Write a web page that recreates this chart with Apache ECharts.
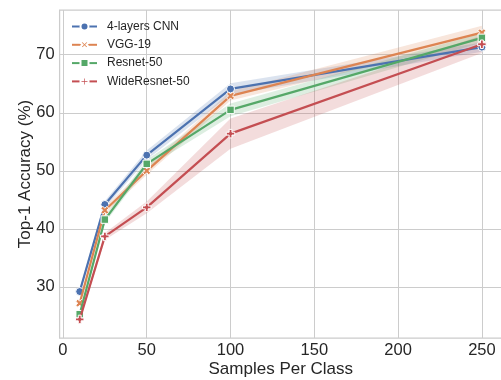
<!DOCTYPE html>
<html>
<head>
<meta charset="utf-8">
<script src="https://cdn.jsdelivr.net/npm/echarts@6/dist/echarts.min.js"></script>
<style>
    html, body { margin: 0; padding: 0; background: #fff; }
    #chart { width: 501px; height: 380px; }
</style>
</head>
<body>
<div id="chart"></div>
<script>
// data
const samples = [10, 25, 50, 100, 250];
const modelNames = ['4-layers CNN', 'VGG-19', 'Resnet-50', 'WideResnet-50'];

const cnnAcc  = [29.2, 44.2, 52.7, 64.1, 71.3];
const cnnLow  = [28.7, 43.6, 51.9, 63.1, 70.5];
const cnnHigh = [29.7, 44.8, 53.5, 65.1, 72.1];

const vggAcc  = [27.2, 43.2, 50.0, 62.9, 73.8];
const vggLow  = [26.7, 42.6, 49.3, 62.1, 72.6];
const vggHigh = [27.7, 43.8, 50.7, 63.7, 75.0];

const resAcc  = [25.3, 41.6, 51.2, 60.5, 72.9];
const resLow  = [24.8, 41.0, 50.5, 59.4, 72.1];
const resHigh = [25.8, 42.2, 51.9, 61.6, 73.7];

const wideAcc  = [24.4, 38.7, 43.7, 56.4, 71.8];
const wideLow  = [24.0, 38.1, 42.7, 53.8, 70.3];
const wideHigh = [24.8, 39.3, 44.7, 59.0, 73.3];

const xTicks = [0, 50, 100, 150, 200, 250];
const yTicks = [30, 40, 50, 60, 70];

const textColor = '#262626';
const gridColor = '#cccccc';
const fontName = 'Liberation Sans';

// filled plus / filled x like matplotlib 'P' and 'X'
const plusPath = 'path://M-1,-3H1V-1H3V1H1V3H-1V1H-3V-1H-1Z';
const xPath = 'path://M141,-283L283,-141L141,0L283,141L141,283L0,141L-141,283L-283,141L-141,0L-283,-141L-141,-283L0,-141Z';

const models = [
    { name: modelNames[0], acc: cnnAcc,  low: cnnLow,  high: cnnHigh,  color: '#4C72B0', symbol: 'circle', size: 8 },
    { name: modelNames[1], acc: vggAcc,  low: vggLow,  high: vggHigh,  color: '#DD8452', symbol: xPath,    size: 8 },
    { name: modelNames[2], acc: resAcc,  low: resLow,  high: resHigh,  color: '#55A868', symbol: 'rect',   size: 7.5 },
    { name: modelNames[3], acc: wideAcc, low: wideLow, high: wideHigh, color: '#C44E52', symbol: plusPath, size: 8.5 }
];

function pairs(xs, ys) {
    return xs.map(function (x, i) { return [x, ys[i]]; });
}

let series = [];
// confidence bands, one polygon per model, placed with api.coord
models.forEach(function (m, k) {
    series.push({
        name: 'band-' + k,
        type: 'custom',
        silent: true,
        z: 1,
        clip: true,
        data: samples.map(function (x, i) { return [x, m.low[i], m.high[i]]; }),
        encode: { x: 0, y: [1, 2] },
        renderItem: function (params, api) {
            if (params.dataIndex !== 0) return;
            const upper = samples.map(function (x, i) { return api.coord([x, m.high[i]]); });
            const lower = samples.map(function (x, i) { return api.coord([x, m.low[i]]); }).reverse();
            return {
                type: 'polygon',
                shape: { points: upper.concat(lower) },
                style: { fill: m.color, opacity: 0.2 }
            };
        }
    });
});
models.forEach(function (m, k) {
    series.push({
        name: m.name,
        type: 'line',
        data: pairs(samples, m.acc),
        symbol: m.symbol,
        symbolSize: m.size,
        showAllSymbol: true,
        lineStyle: { color: m.color, width: 2.2 },
        itemStyle: { color: m.color, borderColor: '#fff', borderWidth: 1 },
        z: 2 + k
    });
});

const myChart = echarts.init(document.getElementById('chart'));
const option = {
    animation: false,
    backgroundColor: '#fff',
    grid: {
        left: 59.6,
        right: -1,
        top: 10,
        bottom: 42,
        outerBoundsMode: 'none',
        containLabel: false,
        show: true,
        borderColor: gridColor,
        borderWidth: 1.25,
        backgroundColor: 'transparent'
    },
    legend: {
        data: modelNames,
        orient: 'vertical',
        left: 71,
        top: 18.5,
        padding: 0,
        itemWidth: 25,
        itemHeight: 10,
        itemGap: 2.3,
        textStyle: {
            color: textColor,
            fontSize: 12,
            fontFamily: fontName,
            lineHeight: 16,
            padding: [0, 0, 0, 5]
        }
    },
    xAxis: {
        type: 'value',
        min: -2,
        max: 262,
        name: 'Samples Per Class',
        nameLocation: 'middle',
        nameGap: 22.5,
        nameMoveOverlap: false,
        nameTextStyle: { color: textColor, fontSize: 17, fontFamily: fontName },
        axisLine: { show: false },
        axisTick: { show: false, customValues: xTicks },
        axisLabel: { customValues: xTicks, color: textColor, fontSize: 16.5, fontFamily: fontName, margin: 4 },
        splitLine: { show: true, lineStyle: { color: gridColor, width: 1 } }
    },
    yAxis: {
        type: 'value',
        min: 21.2,
        max: 77.7,
        name: 'Top-1 Accuracy (%)',
        nameLocation: 'middle',
        nameGap: 26,
        nameMoveOverlap: false,
        nameTextStyle: { color: textColor, fontSize: 17, fontFamily: fontName },
        axisLine: { show: false },
        axisTick: { show: false, customValues: yTicks },
        axisLabel: { customValues: yTicks, color: textColor, fontSize: 16.5, fontFamily: fontName, margin: 5 },
        splitLine: { show: true, lineStyle: { color: gridColor, width: 1 } }
    },
    series: series
};
myChart.setOption(option);
window.addEventListener('resize', function () {
    myChart.resize();
});
</script>
</body>
</html>
